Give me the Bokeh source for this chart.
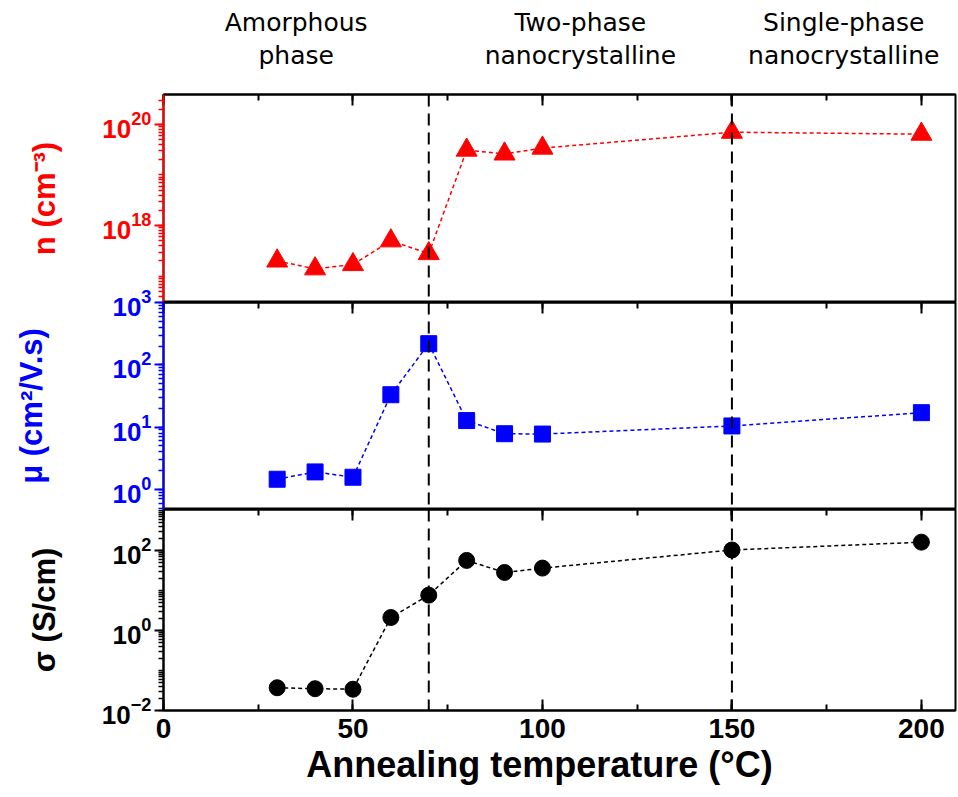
from bokeh.plotting import figure
from bokeh.models import (Range1d, FixedTicker, SingleIntervalTicker, LinearAxis, Span,
                          ColumnDataSource, CustomJSTickFormatter)
from bokeh.core.properties import value
from bokeh.layouts import column
from bokeh.embed import file_html
from bokeh.resources import INLINE

# ---------------- data ----------------
temps = [30, 40, 50, 60, 70, 80, 90, 100, 150, 200]
n_vals = [2.0e17, 1.4e17, 1.7e17, 5.0e17, 2.8e17, 3.1e19, 2.6e19, 3.4e19, 7.0e19, 6.4e19]
mu_vals = [1.45, 1.9, 1.56, 33.0, 218.0, 12.7, 7.8, 7.7, 10.4, 17.0]
sigma_vals = [0.037, 0.035, 0.034, 2.1, 7.6, 56.0, 28.0, 36.0, 102.0, 160.0]

phase_boundaries = [70, 150]
region_line1 = ["Amorphous", "Two-phase", "Single-phase"]
region_line2 = ["phase", "nanocrystalline", "nanocrystalline"]

n_label_ticks = [1e18, 1e20]
mu_label_ticks = [1e0, 1e1, 1e2, 1e3]
sigma_label_ticks = [1e-2, 1e0, 1e2]

# ---------------- style ----------------
FONT = "Liberation Sans"
HEAD_FONT = "DejaVu Sans"
FRAME_W = 792
LEFT = 163
RIGHT = 3
X_MIN, X_MAX = 0, 209

N_LO, N_HI = 16.48, 20.59
MU_LO, MU_HI = -0.325, 3.0
SG_LO, SG_HI = -2.0, 3.02

x_range = Range1d(X_MIN, X_MAX)


def minor_list(lo, hi):
    out = []
    for k in range(int(lo) - 1, int(hi) + 2):
        for m in range(1, 10):
            v = m * 10.0 ** k
            if 10 ** lo <= v <= 10 ** hi:
                out.append(v)
    return out


def style_x_ticks(axis, labels):
    axis.ticker = SingleIntervalTicker(interval=50, num_minor_ticks=2)
    axis.major_tick_in = 11
    axis.major_tick_out = 0
    axis.minor_tick_in = 6
    axis.minor_tick_out = 0
    axis.major_tick_line_width = 2
    axis.minor_tick_line_width = 2
    axis.axis_line_width = 2
    axis.axis_line_color = "black"
    axis.major_tick_line_color = "black"
    axis.minor_tick_line_color = "black"
    if not labels:
        axis.formatter = CustomJSTickFormatter(code="return '';")
        axis.major_label_standoff = 0


def style_y(axis, color, label, ticks, lo, hi, standoff):
    axis.ticker = FixedTicker(ticks=ticks, minor_ticks=minor_list(lo, hi))
    axis.axis_line_color = color
    axis.axis_line_width = 2
    axis.major_tick_line_color = color
    axis.minor_tick_line_color = color
    axis.major_tick_line_width = 2
    axis.minor_tick_line_width = 1.5
    axis.major_tick_out = 9
    axis.major_tick_in = 0
    axis.minor_tick_out = 5
    axis.minor_tick_in = 0
    axis.major_label_text_font = FONT
    axis.major_label_text_font_style = "bold"
    axis.major_label_text_font_size = "26px"
    axis.major_label_text_color = color
    axis.major_label_standoff = 3
    axis.axis_label = label
    axis.axis_label_text_font = FONT
    axis.axis_label_text_font_style = "bold"
    axis.axis_label_text_font_size = "31px"
    axis.axis_label_text_color = color
    axis.axis_label_standoff = standoff


def make_fig(frame_h, lo, hi, top_border, bottom_border, x_loc):
    p = figure(frame_width=FRAME_W, frame_height=frame_h, x_range=x_range,
               y_range=Range1d(10 ** lo, 10 ** hi), y_axis_type="log",
               x_axis_location=x_loc, output_backend="svg", toolbar_location=None,
               min_border_left=LEFT, min_border_right=RIGHT,
               min_border_top=top_border, min_border_bottom=bottom_border)
    p.xgrid.visible = False
    p.ygrid.visible = False
    p.outline_line_color = "black"
    p.outline_line_width = 2
    for b in phase_boundaries:
        p.add_layout(Span(location=b, dimension="height", line_color="black",
                          line_width=2, line_dash="12 7"))
    return p


# ---------------- header with phase names ----------------
HEAD_H = 88
hf = figure(frame_width=FRAME_W, frame_height=HEAD_H, x_range=x_range,
            y_range=Range1d(0, HEAD_H), output_backend="svg", toolbar_location=None,
            min_border_left=LEFT, min_border_right=RIGHT, min_border_top=0,
            min_border_bottom=0, outline_line_color=None)
hf.axis.visible = False
hf.xgrid.visible = False
hf.ygrid.visible = False
edges = [X_MIN] + phase_boundaries + [X_MAX]
centers = [(edges[i] + edges[i + 1]) / 2 for i in range(3)]
hsrc = ColumnDataSource(dict(x=centers + centers,
                             y=[HEAD_H - 22] * 3 + [HEAD_H - 55] * 3,
                             t=region_line1 + region_line2))
hf.text("x", "y", text="t", source=hsrc, text_align="center", text_baseline="middle",
        text_font=value(HEAD_FONT), text_font_size="25px", text_color="black")

# ---------------- top: carrier concentration ----------------
p1 = make_fig(208, N_LO, N_HI, 6, 0, "above")
style_x_ticks(p1.xaxis[0], False)
style_y(p1.yaxis[0], "#FF0000", "n (cm\u207b\u00b3)", n_label_ticks, N_LO, N_HI, 37)
src_n = ColumnDataSource(dict(t=temps, v=n_vals))
p1.line("t", "v", source=src_n, line_color="#FF0000", line_width=1.5, line_dash="4 3")
p1.scatter("t", "v", source=src_n, marker="triangle", size=21,
           fill_color="#FF0000", line_color="#FF0000")

# ---------------- middle: mobility ----------------
p2 = make_fig(207, MU_LO, MU_HI, 16, 0, "above")
p2.margin = (-16, 0, 0, 0)
p2.border_fill_color = None
p2.background_fill_color = None
style_x_ticks(p2.xaxis[0], False)
style_y(p2.yaxis[0], "#0000FF", "\u03bc (cm\u00b2/V.s)", mu_label_ticks, MU_LO, MU_HI, 60)
src_mu = ColumnDataSource(dict(t=temps, v=mu_vals))
p2.line("t", "v", source=src_mu, line_color="#0000FF", line_width=1.5, line_dash="4 3")
p2.scatter("t", "v", source=src_mu, marker="square", size=16,
           fill_color="#0000FF", line_color="#0000FF")

# ---------------- bottom: conductivity ----------------
p3 = make_fig(201, SG_LO, SG_HI, 0, 87, "below")
bx = p3.xaxis[0]
style_y(p3.yaxis[0], "black", "\u03c3 (S/cm)", sigma_label_ticks, SG_LO, SG_HI, 37)
top_ax = LinearAxis()
p3.add_layout(top_ax, "above")
style_x_ticks(top_ax, False)
style_x_ticks(bx, True)
bx.major_label_text_font = FONT
bx.major_label_text_font_style = "bold"
bx.major_label_text_font_size = "28px"
bx.major_label_text_color = "black"
bx.major_label_standoff = 8
bx.axis_label = "Annealing temperature (\u00b0C)\u00a0\u00a0\u00a0\u00a0"
bx.axis_label_text_font = FONT
bx.axis_label_text_font_style = "bold"
bx.axis_label_text_font_size = "36px"
bx.axis_label_text_color = "black"
bx.axis_label_standoff = 3
src_s = ColumnDataSource(dict(t=temps, v=sigma_vals))
p3.line("t", "v", source=src_s, line_color="black", line_width=1.5, line_dash="4 3")
p3.scatter("t", "v", source=src_s, marker="circle", size=16,
           fill_color="black", line_color="black")

layout = column(hf, p1, p2, p3, spacing=0)
open("out.html", "w").write(file_html(layout, INLINE))
